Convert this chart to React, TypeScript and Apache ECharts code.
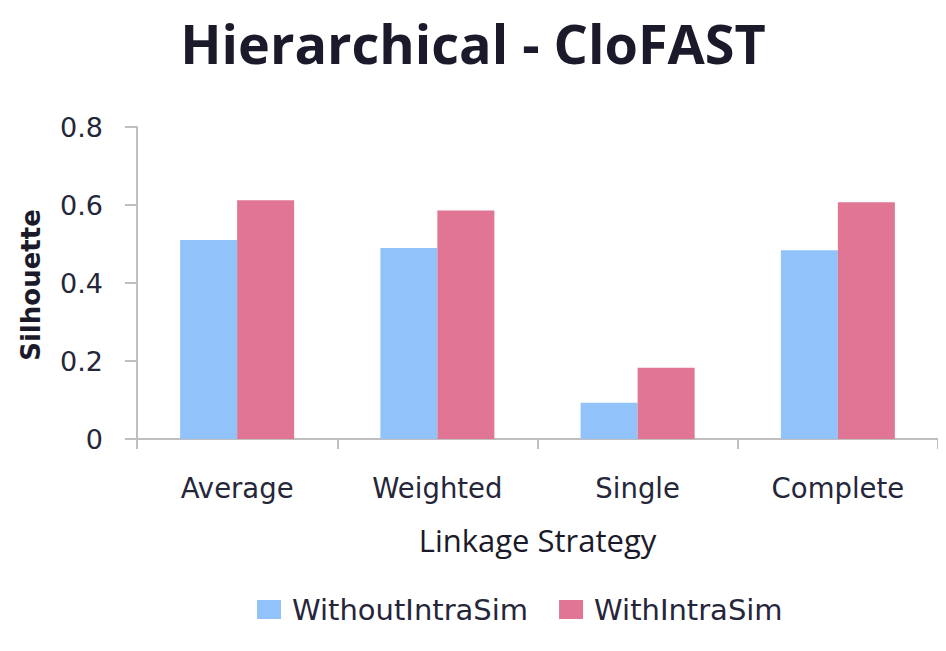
import React, { useEffect, useRef } from "react";
import * as echarts from "echarts";

const categories = ["Average", "Weighted", "Single", "Complete"];
const withoutIntraSim = [0.51, 0.49, 0.093, 0.484];
const withIntraSim = [0.612, 0.586, 0.183, 0.607];
const seriesNames = ["WithoutIntraSim", "WithIntraSim"];
const yTicks = { min: 0, max: 0.8, interval: 0.2 };

export default function App() {
  const ref = useRef<HTMLDivElement>(null);
  useEffect(() => {
    if (!ref.current) return;
    const chart = echarts.init(ref.current, null, { renderer: "svg" });
    const labelColor = "#26263a";
    const axisColor = "#bfbfbf";
    chart.setOption({
      animation: false,
      backgroundColor: "#ffffff",
      title: {
        text: "Hierarchical - CloFAST",
        left: "center",
        top: 11,
        textStyle: {
          fontFamily: "Open Sans",
          fontWeight: "bold",
          fontSize: 54,
          color: "#1a1a2a",
        },
      },
      grid: { left: 137, right: 8, top: 127, bottom: 212, containLabel: false },
      legend: {
        data: seriesNames,
        top: 590,
        left: 252,
        padding: 5,
        itemWidth: 24,
        itemHeight: 19,
        itemGap: 31,
        icon: "rect",
        textStyle: { fontFamily: "DejaVu Sans", fontSize: 29, color: labelColor, padding: [0, 0, 0, 6] },
      },
      xAxis: {
        type: "category",
        data: categories,
        axisLine: { show: true, lineStyle: { color: axisColor, width: 2 } },
        axisTick: { show: true, alignWithLabel: false, length: 10, lineStyle: { color: axisColor, width: 2 } },
        axisLabel: { margin: 35, fontFamily: "DejaVu Sans", fontSize: 27.5, color: labelColor },
        name: "Linkage Strategy",
        nameLocation: "middle",
        nameGap: 85,
        nameTextStyle: { fontFamily: "Open Sans", fontSize: 31, fontWeight: "normal", color: "#1a1a2a", verticalAlign: "top" },
      },
      yAxis: {
        type: "value",
        min: yTicks.min,
        max: yTicks.max,
        interval: yTicks.interval,
        axisLine: { show: true, lineStyle: { color: axisColor, width: 2 } },
        axisTick: { show: true, length: 12, lineStyle: { color: axisColor, width: 2 } },
        splitLine: { show: false },
        axisLabel: {
          margin: 34,
          fontFamily: "DejaVu Sans",
          fontSize: 27,
          color: labelColor,
          formatter: (v: number) => (v === 0 ? "0" : v.toFixed(1)),
        },
      },
      graphic: [
        {
          type: "text",
          x: 31,
          y: 285,
          rotation: Math.PI / 2,
          style: {
            text: "Silhouette",
            fontFamily: "DejaVu Sans",
            fontWeight: "bold",
            fontSize: 26,
            fill: "#1a1a2a",
            textAlign: "center",
            textVerticalAlign: "middle",
          },
        },
      ],
      series: [
        {
          name: seriesNames[0],
          type: "bar",
          data: withoutIntraSim,
          barWidth: 57,
          barGap: "0%",
          itemStyle: { color: "#91c3fa" },
        },
        {
          name: seriesNames[1],
          type: "bar",
          data: withIntraSim,
          barWidth: 57,
          barGap: "0%",
          itemStyle: { color: "#e07594" },
        },
      ],
    });
    return () => chart.dispose();
  }, []);
  return <div ref={ref} style={{ width: 946, height: 651, margin: -8 }} />;
}
